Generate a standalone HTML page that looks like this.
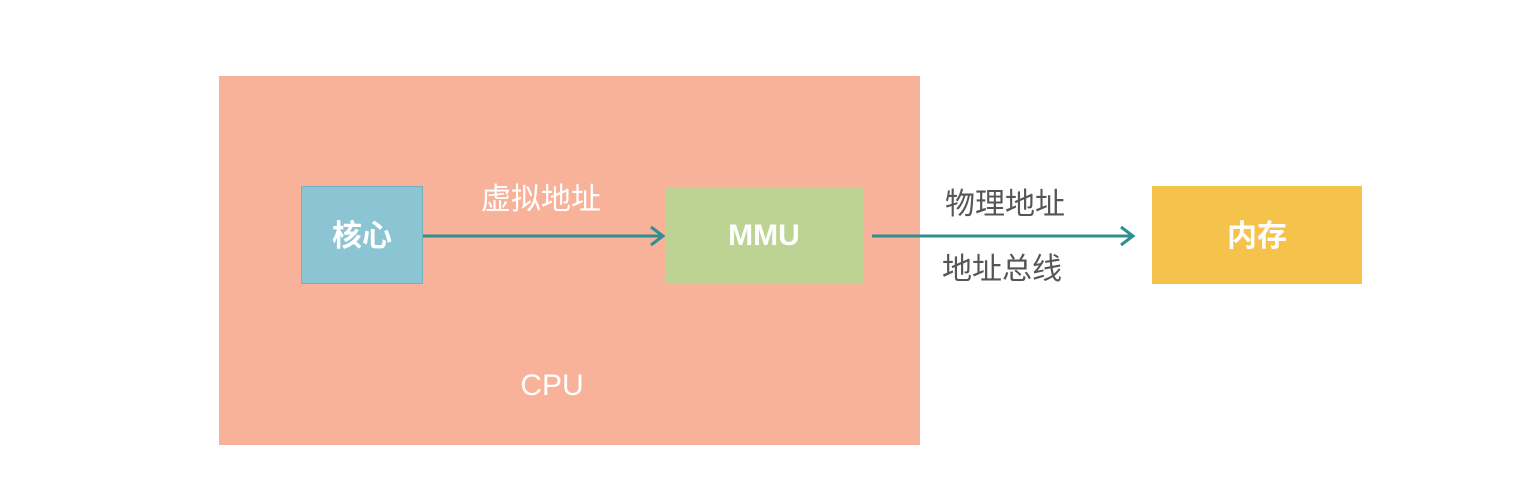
<!DOCTYPE html>
<html><head><meta charset="utf-8"><style>
body{margin:0;width:1534px;height:497px;background:#fff;position:relative;overflow:hidden;font-family:"Liberation Sans","Noto Sans CJK SC",sans-serif}
.a{position:absolute}
.t{position:absolute;white-space:nowrap;transform:translate(-50%,-50%);font-size:30px;line-height:1}
</style></head><body>
<div class="a" style="left:219px;top:76px;width:701px;height:369px;background:#f9b29a"></div>
<div class="a" style="left:301px;top:186px;width:120px;height:96px;background:#8bc5d3;border:1px solid #74b0bd"></div>
<div class="a" style="left:665px;top:187px;width:199px;height:97px;background:#bcd394"></div>
<div class="a" style="left:1152px;top:186px;width:210px;height:98px;background:#f5c24c"></div>
<svg class="a" style="left:0;top:0" width="1534" height="497">
<g stroke="#2f8f8f" stroke-width="3" fill="none">
<line x1="423" y1="236" x2="662" y2="236"/><polyline points="651,227 663,236 651,245"/>
<line x1="872" y1="236" x2="1132" y2="236"/><polyline points="1121,227 1133,236 1121,245"/>
</g></svg>
<div class="t" style="left:362px;top:237px;color:#fff;font-weight:bold">核心</div>
<div class="t" style="left:764px;top:236px;color:#fff;font-weight:bold">MMU</div>
<div class="t" style="left:1257px;top:237px;color:#fff;font-weight:bold">内存</div>
<div class="t" style="left:541px;top:200px;color:#fff">虚拟地址</div>
<div class="t" style="left:1005px;top:205px;color:#555">物理地址</div>
<div class="t" style="left:1002px;top:270px;color:#555">地址总线</div>
<div class="t" style="left:552px;top:386px;color:#fff">CPU</div>
</body></html>
